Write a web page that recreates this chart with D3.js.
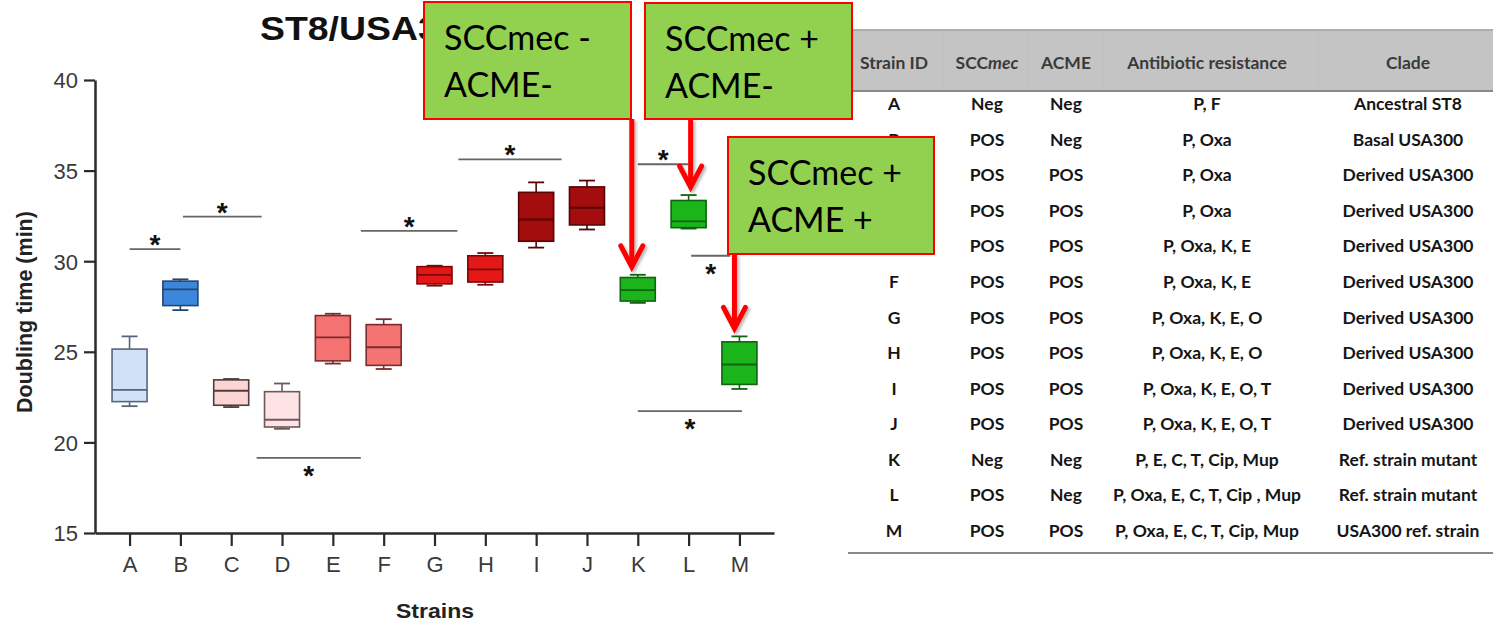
<!DOCTYPE html>
<html>
<head>
<meta charset="utf-8">
<script src="https://cdn.jsdelivr.net/npm/d3@7"></script>
<style>
  html, body { margin: 0; padding: 0; background: #fff; }
  svg { display: block; }
</style>
</head>
<body>
<script>
// ---- Doubling-time box plot data (minutes) ----
const categories = ["A", "B", "C", "D", "E", "F", "G", "H", "I", "J", "K", "L", "M"];
const mins    = [22.0, 27.3, 21.95, 20.75, 24.35, 24.05, 28.65, 28.7, 30.75, 31.75, 27.7, 31.8, 22.95];
const q1      = [22.25, 27.55, 22.05, 20.85, 24.5, 24.25, 28.75, 28.85, 31.1, 32.0, 27.8, 31.85, 23.2];
const medians = [22.9, 28.45, 22.85, 21.25, 25.8, 25.25, 29.25, 29.55, 32.3, 32.95, 28.4, 32.2, 24.3];
const q3      = [25.15, 28.9, 23.45, 22.8, 27.0, 26.5, 29.7, 30.3, 33.8, 34.1, 29.1, 33.35, 25.55];
const maxs    = [25.85, 29.0, 23.5, 23.25, 27.1, 26.8, 29.75, 30.45, 34.35, 34.45, 29.25, 33.65, 25.85];
const yTicks  = [15, 20, 25, 30, 35, 40];

// Significance brackets: start/end in category units, height in minutes, star side
const sigStart = [0, 1.05, 2.5, 4.55, 6.47, 10, 11.05, 10];
const sigEnd   = [1, 2.6, 4.55, 6.45, 8.5, 11, 11.82, 12.05];
const sigY     = [30.67, 32.46, 19.15, 31.67, 35.62, 35.35, 30.3, 21.73];
const sigBelow = [false, false, true, false, false, false, true, true];

// ---- Strain table ----
const sccmec     = ["Neg", "POS", "POS", "POS", "POS", "POS", "POS", "POS", "POS", "POS", "Neg", "POS", "POS"];
const acme       = ["Neg", "Neg", "POS", "POS", "POS", "POS", "POS", "POS", "POS", "POS", "Neg", "Neg", "POS"];
const resistance = ["P, F", "P, Oxa", "P, Oxa", "P, Oxa", "P, Oxa, K, E", "P, Oxa, K, E", "P, Oxa, K, E, O",
                    "P, Oxa, K, E, O", "P, Oxa, K, E, O, T", "P, Oxa, K, E, O, T", "P, E, C, T, Cip, Mup",
                    "P, Oxa, E, C, T, Cip , Mup", "P, Oxa, E, C, T, Cip, Mup"];
const clade      = ["Ancestral ST8", "Basal USA300", "Derived USA300", "Derived USA300", "Derived USA300",
                    "Derived USA300", "Derived USA300", "Derived USA300", "Derived USA300", "Derived USA300",
                    "Ref. strain mutant", "Ref. strain mutant", "USA300 ref. strain"];

// ---- Callouts ----
const calloutLines  = [["SCCmec -", "ACME-"], ["SCCmec +", "ACME-"], ["SCCmec +", "ACME +"]];
const calloutTarget = ["K", "L", "M"];

// ---- Styles ----
const fills   = ["#cfe2f8", "#3c86db", "#fbd5d4", "#fde3e5", "#f47272", "#f47474", "#e51616", "#e51818",
                 "#a30d0d", "#a30d0d", "#1bb51b", "#1bb51b", "#1bb51b"];
const strokes = ["#56667c", "#25466f", "#4d3d3d", "#6e5858", "#7e2a2a", "#7e2a2a", "#7a0808", "#7a0808",
                 "#560505", "#560505", "#0f640f", "#0f640f", "#0f640f"];

const W = 1493, H = 623;
const svg = d3.select("body").append("svg").attr("width", W).attr("height", H)
  .style("font-family", "'Liberation Sans', Arial, sans-serif");

const defs = svg.append("defs");
const sh = defs.append("filter").attr("id", "shadow").attr("x", "-50%").attr("y", "-20%")
  .attr("width", "200%").attr("height", "140%");
sh.append("feDropShadow").attr("dx", 2).attr("dy", 2).attr("stdDeviation", 1.6)
  .attr("flood-color", "#000").attr("flood-opacity", 0.3);

// ---- Scales ----
const x = d3.scalePoint().domain(categories).range([95, 774]).padding(0.68);
const y = d3.scaleLinear().domain([15, 40]).range([533, 80]);
const step = x.step();
const xu = u => x(categories[0]) + u * step;
const boxW = 35, capW = 16;

const chart = svg.append("g");

// Title
chart.append("text")
  .attr("transform", "translate(260,40) scale(1.1,1)")
  .attr("font-size", 34).attr("font-weight", "bold").attr("fill", "#111")
  .text("ST8/USA300");

// Axes
const yAxis = chart.append("g").attr("transform", "translate(95,0)")
  .call(d3.axisLeft(y).tickValues(yTicks).tickSize(11).tickSizeOuter(0).tickPadding(6));
const xAxis = chart.append("g").attr("transform", "translate(0,533)")
  .call(d3.axisBottom(x).tickSize(13).tickSizeOuter(0).tickPadding(10));
[yAxis, xAxis].forEach(a => {
  a.select(".domain").attr("stroke", "#2a2a2a").attr("stroke-width", 2.5);
  a.selectAll(".tick line").attr("stroke", "#2a2a2a").attr("stroke-width", 2.2);
  a.selectAll(".tick text").attr("fill", "#3a3a3a").attr("font-size", 22)
    .attr("font-family", "'Liberation Sans', Arial, sans-serif");
});
yAxis.selectAll(".tick text").attr("dy", "0.36em");

// Axis titles
chart.append("text")
  .attr("transform", "translate(32,312) rotate(-90)")
  .attr("text-anchor", "middle").attr("font-size", 21.5).attr("font-weight", "bold").attr("fill", "#222")
  .text("Doubling time (min)");
chart.append("text")
  .attr("transform", "translate(435,618) scale(1.15,1)")
  .attr("text-anchor", "middle").attr("font-size", 20).attr("font-weight", "bold").attr("fill", "#222")
  .text("Strains");

// Box plots
const boxes = chart.append("g").selectAll("g").data(categories).join("g");
boxes.each(function (c, i) {
  const g = d3.select(this);
  const cx = x(c);
  g.append("line").attr("x1", cx).attr("x2", cx).attr("y1", y(maxs[i])).attr("y2", y(q3[i]))
    .attr("stroke", strokes[i]).attr("stroke-width", 1.6);
  g.append("line").attr("x1", cx).attr("x2", cx).attr("y1", y(q1[i])).attr("y2", y(mins[i]))
    .attr("stroke", strokes[i]).attr("stroke-width", 1.6);
  [maxs[i], mins[i]].forEach(v => g.append("line")
    .attr("x1", cx - capW / 2).attr("x2", cx + capW / 2).attr("y1", y(v)).attr("y2", y(v))
    .attr("stroke", strokes[i]).attr("stroke-width", 1.8));
  g.append("rect").attr("x", cx - boxW / 2).attr("width", boxW)
    .attr("y", y(q3[i])).attr("height", y(q1[i]) - y(q3[i]))
    .attr("fill", fills[i]).attr("stroke", strokes[i]).attr("stroke-width", 1.6);
  g.append("line").attr("x1", cx - boxW / 2).attr("x2", cx + boxW / 2)
    .attr("y1", y(medians[i])).attr("y2", y(medians[i]))
    .attr("stroke", strokes[i]).attr("stroke-width", 1.8);
});

// Significance brackets
const sig = chart.append("g");
sigStart.forEach((s, i) => {
  const x1 = xu(s), x2 = xu(sigEnd[i]), yy = y(sigY[i]);
  sig.append("line").attr("x1", x1).attr("x2", x2).attr("y1", yy).attr("y2", yy)
    .attr("stroke", "#666").attr("stroke-width", 1.8);
  const cy = sigBelow[i] ? yy + 12 : yy - 10;
  sig.append("text").attr("x", (x1 + x2) / 2).attr("y", cy + 15)
    .attr("text-anchor", "middle").attr("font-size", 28).attr("font-weight", "bold").attr("fill", "#111")
    .text("*");
});

// ---- Table ----
const table = svg.append("g").style("font-family", "Lato, 'Open Sans', sans-serif");
const colX = [894, 987, 1066, 1207, 1408];
const rowY = d3.scalePoint().domain(categories).range([104, 531]);

table.append("rect").attr("x", 845).attr("y", 29).attr("width", W - 845).attr("height", 62).attr("fill", "#c4c4c4");
table.append("line").attr("x1", 845).attr("x2", W).attr("y1", 30).attr("y2", 30).attr("stroke", "#a8a8a8").attr("stroke-width", 1.5);
table.append("line").attr("x1", 845).attr("x2", W).attr("y1", 91).attr("y2", 91).attr("stroke", "#8a8a8a").attr("stroke-width", 2);
[943, 1028, 1103, 1318].forEach(v => table.append("line")
  .attr("x1", v).attr("x2", v).attr("y1", 32).attr("y2", 89).attr("stroke", "#bebebe").attr("stroke-width", 1));

const header = table.append("g").attr("font-size", 17.5).attr("font-weight", "bold").attr("fill", "#3a3a3a")
  .attr("text-anchor", "middle");
header.append("text").attr("x", colX[0]).attr("y", 69).text("Strain ID");
const sccHead = header.append("text").attr("x", colX[1]).attr("y", 69);
sccHead.append("tspan").text("SCC");
sccHead.append("tspan").attr("font-style", "italic").text("mec");
header.append("text").attr("x", colX[2]).attr("y", 69).text("ACME");
header.append("text").attr("x", colX[3]).attr("y", 69).text("Antibiotic resistance");
header.append("text").attr("x", colX[4]).attr("y", 69).text("Clade");

const rows = table.append("g").attr("font-size", 17.5).attr("font-weight", "bold").attr("fill", "#151515")
  .attr("text-anchor", "middle");
categories.forEach((c, i) => {
  const yy = rowY(c) + 6;
  [c, sccmec[i], acme[i], resistance[i], clade[i]].forEach((t, j) =>
    rows.append("text").attr("x", colX[j]).attr("y", yy).text(t));
});
table.append("line").attr("x1", 848).attr("x2", W).attr("y1", 553).attr("y2", 553)
  .attr("stroke", "#8a8a8a").attr("stroke-width", 2);

// ---- Callouts and arrows ----
const boxesPos = [{ x: 424, y: 2, w: 207, h: 117 }, { x: 645, y: 3, w: 207, h: 116 }, { x: 728, y: 137, w: 206, h: 117 }];
const arrowDx = [-6, 2, -5];
const ann = svg.append("g");
calloutLines.forEach((lines, i) => {
  const b = boxesPos[i];
  ann.append("rect").attr("x", b.x).attr("y", b.y).attr("width", b.w).attr("height", b.h)
    .attr("fill", "#92d050").attr("stroke", "#ff0000").attr("stroke-width", 2);
  lines.forEach((t, k) => ann.append("text")
    .attr("x", b.x + 20).attr("y", b.y + 48 + k * 47)
    .attr("font-family", "Lato, 'Open Sans', sans-serif").attr("font-size", 34).attr("fill", "#000")
    .text(t));
});
calloutLines.forEach((lines, i) => {
  const b = boxesPos[i];
  const idx = categories.indexOf(calloutTarget[i]);
  const ax = x(calloutTarget[i]) + arrowDx[i];
  const tip = y(maxs[idx]) - 8;
  const g = ann.append("g").attr("filter", "url(#shadow)");
  g.append("line").attr("x1", ax).attr("x2", ax).attr("y1", b.y + b.h).attr("y2", tip - 2)
    .attr("stroke", "#ff0000").attr("stroke-width", 5);
  g.append("path").attr("d", `M${ax - 11},${tip - 21}L${ax},${tip}L${ax + 11},${tip - 21}`)
    .attr("fill", "none").attr("stroke", "#ff0000").attr("stroke-width", 5)
    .attr("stroke-linejoin", "miter").attr("stroke-linecap", "round");
});
</script>
</body>
</html>
